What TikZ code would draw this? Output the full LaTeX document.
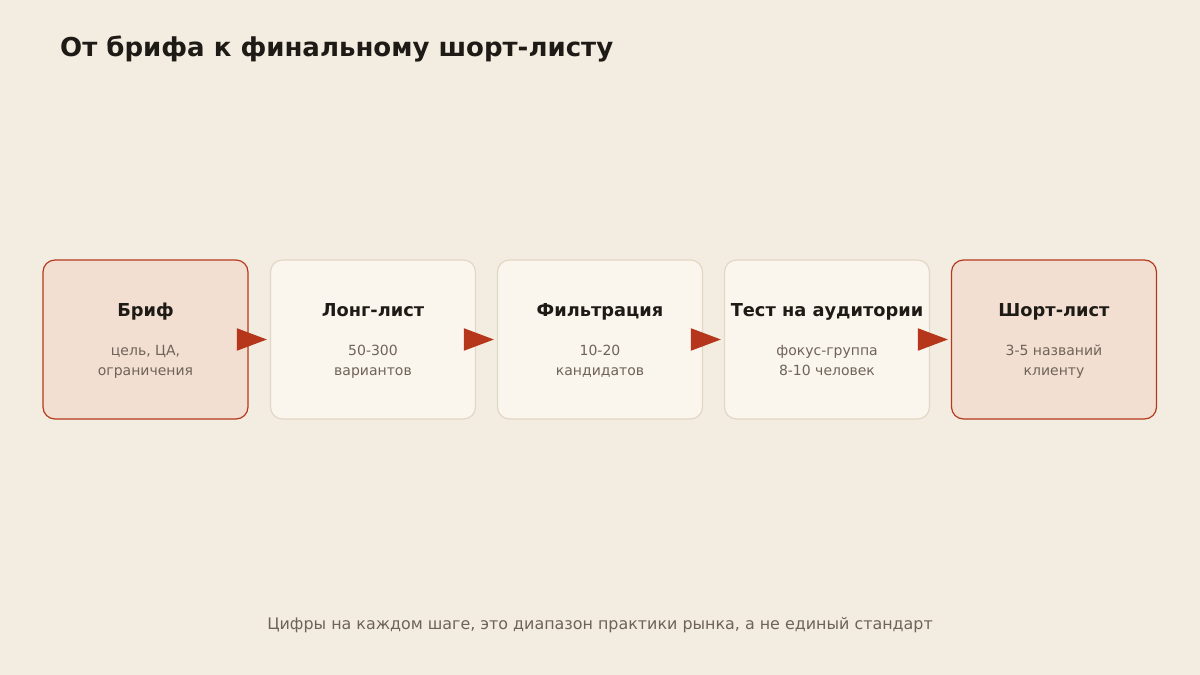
\documentclass[tikz,border=0pt]{standalone}
\usepackage{fontspec}
\setmainfont{DejaVu Sans}
\usetikzlibrary{arrows.meta}
\definecolor{bg}{HTML}{F3ECE1}
\definecolor{hifill}{HTML}{F2DFD2}
\definecolor{hiborder}{HTML}{B5391B}
\definecolor{plfill}{HTML}{FAF6EE}
\definecolor{plborder}{HTML}{E2D7C4}
\definecolor{arrowc}{HTML}{B5361A}
\definecolor{titlec}{HTML}{1E1A15}
\definecolor{subc}{HTML}{6E6358}
\tikzset{
  box/.style={rectangle, rounded corners=12pt, minimum width=205pt, minimum height=159pt, line width=1.2pt, inner sep=0pt},
  hibox/.style={box, fill=hifill, draw=hiborder},
  plbox/.style={box, fill=plfill, draw=plborder},
  boxtitle/.style={font=\fontsize{17.8}{21}\selectfont\bfseries, text=titlec, anchor=base, inner sep=0pt},
  boxsub/.style={font=\fontsize{14}{19.5}\selectfont, text=subc, align=center, anchor=center, text height=10pt, text depth=3pt},
  flow/.style={draw=arrowc, line width=2pt, -{Triangle[length=30pt,width=22pt]}, shorten >=3pt},
}
\begin{document}
\begin{tikzpicture}[x=1pt,y=-1pt]
\fill[bg] (0,0) rectangle (1200,675);
\useasboundingbox (0,0) rectangle (1200,675);
\node[anchor=base west, inner sep=0pt, font=\fontsize{26}{30}\selectfont\bfseries, text=titlec] (title) at (60,56) {От брифа к финальному шорт-листу};
\node[hibox] (b1) at (145.5,339.5) {};
\node[plbox] (b2) at (373,339.5) {};
\node[plbox] (b3) at (600,339.5) {};
\node[plbox] (b4) at (827,339.5) {};
\node[hibox] (b5) at (1054,339.5) {};
\foreach \n/\t/\s in {b1/Бриф/{цель, ЦА,\\ограничения}, b2/Лонг-лист/{50-300\\вариантов}, b3/Фильтрация/{10-20\\кандидатов}, b4/Тест на аудитории/{фокус-группа\\8-10 человек}, b5/Шорт-лист/{3-5 названий\\клиенту}}{
  \node[boxtitle] (\n t) at ([yshift=23.5pt]\n.center) {\t};
  \node[boxsub] (\n s) at ([yshift=-32pt]\n.center) {\s};
}
\draw[flow] (b1.east) -- (b2.west);
\draw[flow] (b2.east) -- (b3.west);
\draw[flow] (b3.east) -- (b4.west);
\draw[flow] (b4.east) -- (b5.west);
\node[font=\fontsize{15.9}{19}\selectfont, text=subc] (foot) at (600,625.5) {Цифры на каждом шаге, это диапазон практики рынка, а не единый стандарт};
\end{tikzpicture}
\end{document}
